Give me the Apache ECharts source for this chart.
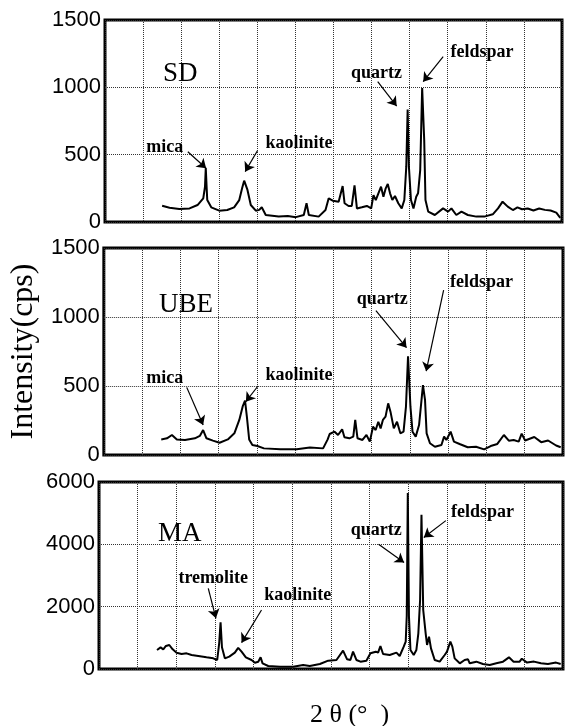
<!DOCTYPE html>
<html><head><meta charset="utf-8">
<script src="https://cdn.jsdelivr.net/npm/echarts@6/dist/echarts.min.js"></script>
<style>html,body{margin:0;padding:0;background:#fff}#c{width:566px;height:726px}</style>
</head><body><div id="c"></div>
<script>
// 2-theta (deg) and intensity (cps)
const sdTheta = [5.0,5.65,6.5,7.4,8.1,8.6,8.75,8.82,8.9,8.95,9.3,10.0,10.7,11.3,11.75,12.0,12.18,12.47,12.76,13.2,13.5,13.72,14.07,15.2,16.0,16.7,17.4,17.64,17.84,18.7,19.3,19.58,19.93,20.45,20.8,20.97,21.32,21.6,21.84,22.05,22.48,22.92,23.3,23.5,23.7,23.93,24.16,24.37,24.57,24.75,24.95,25.15,25.38,25.67,25.97,26.2,26.37,26.49,26.6,26.78,27.0,27.24,27.4,27.59,27.76,27.94,28.05,28.29,28.87,29.59,30.03,30.32,30.75,31.2,31.76,32.5,33.2,33.94,34.4,34.8,35.25,35.7,36.1,36.5,37.0,37.5,38.0,38.5,39.0,39.5,39.85];
const sdCps   = [120,106,97,101,126,176,260,400,250,163,109,84,89,109,163,250,307,238,126,84,90,109,52,40,45,36,52,139,52,40,89,176,158,151,267,139,119,119,272,101,109,119,101,200,163,213,262,188,250,282,213,163,193,139,101,163,411,835,411,163,101,188,213,386,995,609,163,77,52,101,77,101,52,77,52,40,40,57,101,151,114,89,109,95,100,85,100,90,85,70,30];

const ubeTheta = [5.0,5.5,5.93,6.36,7.07,7.93,8.36,8.65,8.94,9.5,10.08,10.8,11.37,11.8,12.09,12.3,12.46,12.66,12.94,13.37,13.95,15.38,16.8,17.95,19.1,19.5,19.67,20.1,20.4,20.76,20.96,21.39,21.73,21.9,22.1,22.53,22.88,23.17,23.45,23.68,23.91,24.11,24.31,24.54,24.77,24.97,25.26,25.54,25.83,26.11,26.32,26.5,26.71,26.89,27.17,27.46,27.63,27.8,27.98,28.12,28.41,28.84,29.41,29.64,29.84,30.21,30.5,30.99,31.7,32.42,33.13,33.7,34.28,34.85,35.28,35.7,36.14,36.4,36.7,37.5,38.1,38.7,39.4,39.8];
const ubeCps   = [113,121,145,113,109,121,138,181,121,104,89,113,157,254,350,395,278,113,72,65,48,41,41,55,48,113,152,169,145,186,128,121,133,254,121,109,145,97,205,181,241,193,254,278,374,314,193,241,157,169,350,715,350,169,133,217,205,507,399,157,85,60,72,133,109,169,97,80,56,60,41,65,80,145,104,109,97,155,105,130,93,105,69,56];

const maTheta = [5.0,5.31,5.54,5.77,6.06,6.35,6.69,7.12,7.55,7.98,8.56,9.27,9.85,10.19,10.36,10.48,10.6,10.85,11.23,11.71,12.0,12.29,12.66,13.15,13.44,13.73,13.93,14.1,14.59,15.6,16.74,17.6,18.17,19.04,19.76,20.47,21.04,21.39,21.67,21.9,22.19,22.54,23.05,23.4,23.86,24.06,24.26,24.49,25.06,25.64,25.92,26.27,26.44,26.53,26.62,26.72,26.85,27.13,27.36,27.53,27.68,27.8,27.95,28.16,28.28,28.45,28.62,28.94,29.37,29.8,30.0,30.29,30.46,30.66,31.1,31.52,31.81,31.96,32.53,33.1,33.68,34.25,34.83,35.34,35.74,36.26,36.45,36.9,37.5,38.1,38.7,39.4,39.8];
const maCps   = [610,695,631,738,770,631,524,481,503,449,417,374,342,289,824,1500,700,342,396,524,680,556,374,289,203,235,374,182,96,75,75,128,96,160,267,289,588,310,289,556,289,235,267,503,556,524,738,481,449,524,417,717,877,1700,5650,1700,610,449,610,1145,2214,4950,1893,1145,770,1037,663,289,235,449,556,877,717,342,182,289,310,182,235,160,128,182,235,374,235,235,330,205,237,183,162,205,162];

// y-axis ticks per panel
const yTicks12 = [0, 500, 1000, 1500];
const yTicks3  = [0, 2000, 4000, 6000];
const sampleNames = ['SD', 'UBE', 'MA'];

// annotations: [label, labelTheta, labelCps, arrowFromTheta, arrowFromCps, arrowToTheta, arrowToCps]
const sdNotes = [
  ['mica', 5.22, 557, 7.25, 522, 8.85, 399],
  ['kaolinite', 16.97, 587, 13.34, 529, 12.27, 374],
  ['quartz', 23.76, 1106, 23.87, 1042, 25.53, 861],
  ['feldspar', 33.0, 1259, 29.6, 1228, 27.85, 1042]
];
const ubeNotes = [
  ['mica', 5.3, 553, 7.22, 490, 8.65, 217],
  ['kaolinite', 17.0, 580, 13.43, 500, 12.37, 386],
  ['quartz', 24.26, 1128, 23.7, 1047, 26.37, 778],
  ['feldspar', 32.9, 1250, 29.6, 1194, 28.08, 607]
];
const maNotes = [
  ['tremolite', 9.85, 2910, 9.42, 2589, 10.08, 1626],
  ['kaolinite', 17.13, 2350, 14.01, 1893, 12.29, 845],
  ['quartz', 23.89, 4437, 24.1, 4006, 26.3, 3414],
  ['feldspar', 33.06, 5019, 29.9, 4760, 28.0, 4222]
];

const zip = (a, b) => a.map((v, i) => [v, b[i]]);
const chart = echarts.init(document.getElementById('c'), null, {renderer: 'canvas'});

const grids = [
  {left: 105, top: 20, width: 457, height: 202},
  {left: 101, top: 248, width: 462, height: 207},
  {left: 99, top: 482, width: 464, height: 187}
];
const dotted = {show: true, lineStyle: {type: 'dotted', color: '#333', width: 1}};
const noteFont = {fontFamily: 'Liberation Serif', fontWeight: 'bold', fontSize: 18, color: '#000'};

function xAx(i) {
  return {type: 'value', gridIndex: i, min: 0, max: 40, interval: 40 / 12,
    axisLabel: {show: false}, axisTick: {show: false}, axisLine: {show: false}, splitLine: dotted};
}
function yAx(i, ticks) {
  return {type: 'value', gridIndex: i, min: ticks[0], max: ticks[ticks.length - 1], interval: ticks[1] - ticks[0],
    axisLabel: {fontFamily: 'Liberation Sans', fontSize: 22, color: '#000', margin: 4, formatter: v => String(v)},
    axisTick: {show: false}, axisLine: {show: false}, splitLine: dotted};
}
function series(i, th, cps, notes) {
  return {
    type: 'line', xAxisIndex: i, yAxisIndex: i, data: zip(th, cps), showSymbol: false, symbol: 'none',
    lineStyle: {color: '#000', width: 2}, z: 3,
    markPoint: {silent: true, symbol: 'rect', symbolSize: 1, itemStyle: {color: 'rgba(0,0,0,0)'},
      label: Object.assign({show: true, position: 'inside', formatter: '{b}'}, noteFont),
      data: notes.map(n => ({name: n[0], coord: [n[1], n[2]]}))},
    markLine: {silent: true, symbol: ['none', 'arrow'], symbolSize: 9, label: {show: false},
      lineStyle: {color: '#000', width: 1.2, type: 'solid'},
      data: notes.map(n => [{coord: [n[3], n[4]]}, {coord: [n[5], n[6]]}])}
  };
}

const option = {
  animation: false,
  backgroundColor: '#fff',
  grid: grids.map(g => Object.assign({show: true, borderColor: '#000', borderWidth: 3, backgroundColor: 'transparent'}, g)),
  title: [
    {text: sampleNames[0], left: 158, top: 55, textStyle: {fontFamily: 'Liberation Serif', fontWeight: 'normal', fontSize: 27, color: '#000'}},
    {text: sampleNames[1], left: 154, top: 286, textStyle: {fontFamily: 'Liberation Serif', fontWeight: 'normal', fontSize: 27, color: '#000'}},
    {text: sampleNames[2], left: 153, top: 515, textStyle: {fontFamily: 'Liberation Serif', fontWeight: 'normal', fontSize: 27, color: '#000'}},
    {text: '2 θ (°  )', left: 305, top: 697, textStyle: {fontFamily: 'Liberation Serif', fontWeight: 'normal', fontSize: 26, color: '#000'}}
  ],
  xAxis: [xAx(0), xAx(1), xAx(2)],
  yAxis: [yAx(0, yTicks12),
    Object.assign(yAx(1, yTicks12), {name: 'Intensity(cps)', nameLocation: 'middle', nameGap: 58, nameRotate: 90,
      nameTextStyle: {fontFamily: 'Liberation Serif', fontSize: 32, color: '#000'}}),
    yAx(2, yTicks3)],
  series: [series(0, sdTheta, sdCps, sdNotes), series(1, ubeTheta, ubeCps, ubeNotes), series(2, maTheta, maCps, maNotes)]
};
chart.setOption(option);
</script></body></html>
